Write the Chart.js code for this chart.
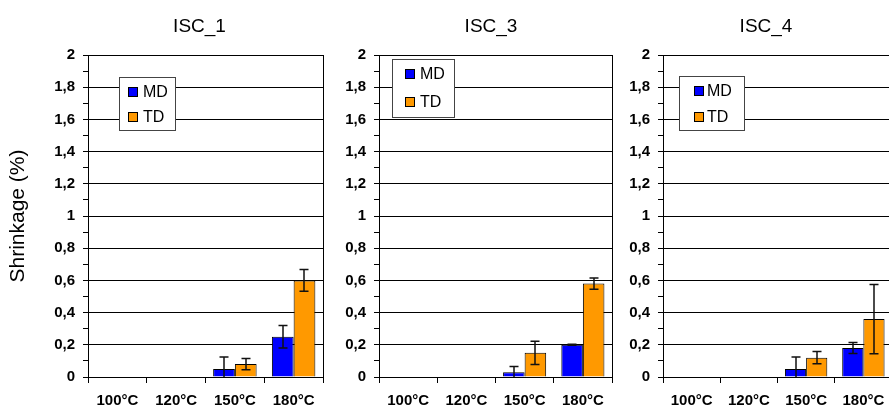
<!DOCTYPE html>
<html>
<head>
<meta charset="utf-8">
<script src="https://cdn.jsdelivr.net/npm/chart.js@4.4.0/dist/chart.umd.min.js"></script>
<style>
  html, body { margin: 0; padding: 0; background: #fff; overflow: hidden; width: 889px; height: 408px; }
  canvas { position: absolute; top: 0; }
</style>
</head>
<body>
<canvas id="c1" width="325" height="408" style="left:0"></canvas>
<canvas id="c2" width="289" height="408" style="left:325px"></canvas>
<canvas id="c3" width="289" height="408" style="left:614px"></canvas>
<script>
// ── Data ─────────────────────────────────────────────────────
const categories = ['100°C', '120°C', '150°C', '180°C'];
const panelTitles = ['ISC_1', 'ISC_3', 'ISC_4'];
const seriesNames = ['MD', 'TD'];

const mdValues = [
    [0, 0, 0.05, 0.25],
    [0, 0, 0.03, 0.20],
    [0, 0, 0.05, 0.18],
];
const mdErrors = [
    [0, 0, 0.074, 0.07],
    [0, 0, 0.035, 0.003],
    [0, 0, 0.074, 0.034],
];
const tdValues = [
    [0, 0, 0.08, 0.60],
    [0, 0, 0.15, 0.58],
    [0, 0, 0.12, 0.36],
];
const tdErrors = [
    [0, 0, 0.035, 0.067],
    [0, 0, 0.072, 0.035],
    [0, 0, 0.038, 0.215],
];

const yTicksMax = 2;
const yTickStep = 0.1;

// ── Look ─────────────────────────────────────────────────────
const FONT = '"Liberation Sans", Arial, sans-serif';
const seriesColors = ['#0000ff', '#ff9900'];

Chart.defaults.font.family = FONT;
Chart.defaults.color = '#000';

const panelLayout = [
    { canvas: 'c1', axisWidth: 88, padRight: 2, titleX: 199.5, yTitle: true,
      legend: { x: 119, y: 77, w: 56, h: 53, sx: 9, tx: 24, rows: [15, 40] } },
    { canvas: 'c2', axisWidth: 54, padRight: 2, titleX: 166, yTitle: false,
      legend: { x: 67, y: 59, w: 62, h: 58, sx: 13, tx: 28, rows: [15, 43] } },
    { canvas: 'c3', axisWidth: 49, padRight: 11, titleX: 152, yTitle: false,
      legend: { x: 65, y: 76, w: 65, h: 54, sx: 15, tx: 28, rows: [15, 41] } },
];

const isMinor = v => Math.round(v * 10) % 2 !== 0;
const align = p => Math.round(p - 0.5) + 0.5;

// ── Plugins ──────────────────────────────────────────────────
// right frame line + error bars (clipped to the plot area)
const errorBars = {
    id: 'errorBars',
    afterDatasetsDraw(chart) {
        const { ctx, chartArea: a, scales: { y } } = chart;
        ctx.save();
        ctx.strokeStyle = '#000';
        ctx.lineWidth = 1;
        ctx.beginPath();
        ctx.moveTo(align(a.right), a.top);
        ctx.lineTo(align(a.right), a.bottom);
        ctx.stroke();

        ctx.beginPath();
        ctx.rect(a.left, a.top - 1, a.right - a.left, a.bottom - a.top + 1);
        ctx.clip();
        ctx.strokeStyle = '#111';
        ctx.lineWidth = 1.5;
        chart.data.datasets.forEach((ds, di) => {
            const meta = chart.getDatasetMeta(di);
            meta.data.forEach((bar, i) => {
                const e = ds.errors[i];
                if (!e) return;
                const v = ds.data[i];
                const hi = y.getPixelForValue(v + e);
                const lo = y.getPixelForValue(v - e);
                const x = Math.round(bar.x);
                ctx.beginPath();
                ctx.moveTo(x, hi); ctx.lineTo(x, lo);
                ctx.moveTo(x - 4.5, hi); ctx.lineTo(x + 4.5, hi);
                ctx.moveTo(x - 4.5, lo); ctx.lineTo(x + 4.5, lo);
                ctx.stroke();
            });
        });
        ctx.restore();
    }
};

// panel title and boxed legend
const panelDecor = {
    id: 'panelDecor',
    afterDraw(chart, args, opts) {
        const { ctx } = chart;
        ctx.save();
        ctx.fillStyle = '#000';
        ctx.font = '19px ' + FONT;
        ctx.textAlign = 'center';
        ctx.textBaseline = 'alphabetic';
        ctx.fillText(opts.title, opts.titleX, 32);

        const L = opts.legend;
        ctx.fillStyle = '#fff';
        ctx.fillRect(L.x, L.y, L.w, L.h);
        ctx.strokeStyle = '#444';
        ctx.lineWidth = 1;
        ctx.strokeRect(L.x + 0.5, L.y + 0.5, L.w, L.h);

        ctx.font = '16px ' + FONT;
        ctx.textAlign = 'left';
        ctx.textBaseline = 'middle';
        chart.data.datasets.forEach((ds, i) => {
            const cy = L.y + L.rows[i];
            ctx.fillStyle = ds.backgroundColor;
            ctx.fillRect(L.x + L.sx, cy - 5, 9, 9);
            ctx.strokeStyle = '#000';
            ctx.strokeRect(L.x + L.sx + 0.5, cy - 4.5, 9, 9);
            ctx.fillStyle = '#000';
            ctx.fillText(ds.label, L.x + L.tx, cy + 1);
        });
        ctx.restore();
    }
};

// ── Charts ───────────────────────────────────────────────────
function buildPanel(p) {
    const lay = panelLayout[p];
    const values = [mdValues[p], tdValues[p]];
    const errors = [mdErrors[p], tdErrors[p]];

    new Chart(document.getElementById(lay.canvas), {
        type: 'bar',
        data: {
            labels: categories,
            datasets: seriesNames.map((name, i) => ({
                label: name,
                data: values[i],
                errors: errors[i],
                backgroundColor: seriesColors[i],
                borderColor: '#000',
                borderWidth: 1,
                categoryPercentage: 0.74,
                barPercentage: 1,
            })),
        },
        options: {
            responsive: false,
            animation: false,
            devicePixelRatio: 1,
            layout: { padding: { top: 55, right: lay.padRight, left: 0, bottom: 0 } },
            plugins: {
                legend: { display: false },
                tooltip: { enabled: false },
                panelDecor: { title: panelTitles[p], titleX: lay.titleX, legend: lay.legend },
            },
            scales: {
                x: {
                    afterFit(scale) { scale.height = 31; },
                    ticks: {
                        color: '#000', padding: 9, maxRotation: 0, autoSkip: false,
                        font: { size: 15, weight: 'bold' },
                    },
                    grid: { drawOnChartArea: false, color: '#000', tickColor: '#000', tickLength: 6, offset: true },
                    border: { color: '#000', width: 1 },
                },
                y: {
                    min: 0,
                    max: yTicksMax,
                    afterFit(scale) { scale.width = lay.axisWidth; },
                    ticks: {
                        stepSize: yTickStep, autoSkip: false, padding: 8, color: '#000',
                        font: { size: 15, weight: 'bold' },
                        callback: v => isMinor(v) ? '' : String(Math.round(v * 10) / 10).replace('.', ','),
                    },
                    grid: {
                        color: c => (c.tick && isMinor(c.tick.value)) ? 'rgba(0,0,0,0)' : '#000',
                        tickColor: '#000',
                        tickLength: 5,
                        lineWidth: 1,
                    },
                    border: { color: '#000', width: 1 },
                    title: {
                        display: lay.yTitle,
                        text: 'Shrinkage (%)',
                        color: '#000',
                        font: { size: 21 },
                        padding: { top: 6, bottom: 0 },
                    },
                },
            },
        },
        plugins: [errorBars, panelDecor],
    });
}

// ── Boot ─────────────────────────────────────────────────────
panelTitles.forEach((_, p) => buildPanel(p));
</script>
</body>
</html>
